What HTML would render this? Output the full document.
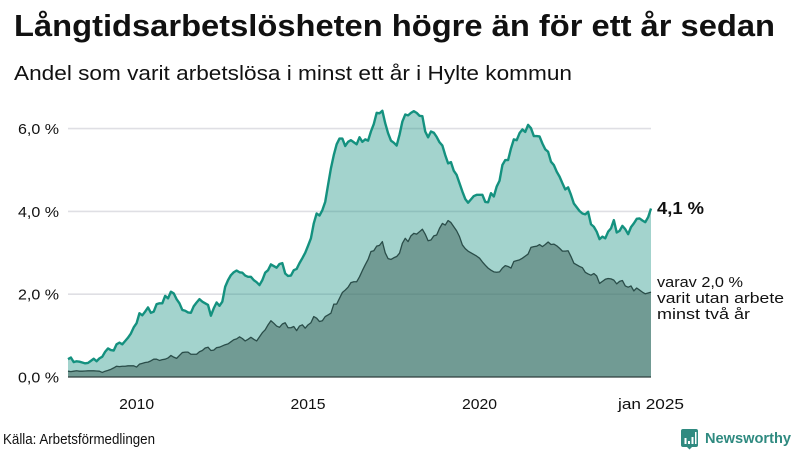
<!DOCTYPE html>
<html lang="sv">
<head>
<meta charset="utf-8">
<title>Långtidsarbetslösheten högre än för ett år sedan</title>
<style>
html,body{margin:0;padding:0;background:#fff;width:800px;height:450px;overflow:hidden}
svg{display:block}
text{font-family:"Liberation Sans",sans-serif;fill:#111}
</style>
</head>
<body>
<svg id="chart" width="800" height="450" viewBox="0 0 800 450" xmlns="http://www.w3.org/2000/svg">
<text x="14" y="36" font-size="31" font-weight="700" textLength="761" lengthAdjust="spacingAndGlyphs">Långtidsarbetslösheten högre än för ett år sedan</text>
<text x="14" y="80" font-size="20.5" textLength="558" lengthAdjust="spacingAndGlyphs">Andel som varit arbetslösa i minst ett år i Hylte kommun</text>
<g id="grid"></g>
<g id="marks"></g>
<g id="ylabels"></g>
<g id="xlabels"></g>
<text x="657" y="214" font-size="17.5" font-weight="700" textLength="47" lengthAdjust="spacingAndGlyphs">4,1 %</text>
<text x="657" y="287" font-size="15" textLength="86" lengthAdjust="spacingAndGlyphs">varav 2,0 %</text>
<text x="657" y="303" font-size="15" textLength="127" lengthAdjust="spacingAndGlyphs">varit utan arbete</text>
<text x="657" y="319" font-size="15" textLength="93" lengthAdjust="spacingAndGlyphs">minst två år</text>
<text x="3" y="444" font-size="14.5" textLength="152" lengthAdjust="spacingAndGlyphs">Källa: Arbetsförmedlingen</text>
<g>
<path d="M683 429h13a2 2 0 0 1 2 2v14a2 2 0 0 1-2 2h-4l-2.500 2.500-2.500-2.500h-4a2 2 0 0 1-2-2v-14a2 2 0 0 1 2-2z" fill="#2f8a80"/>
<path d="M684.500 438h2v6h-2zM688 441h2v3h-2zM691.500 437h2v7h-2zM695 432h1.500v12H695z" fill="#fff"/>
<text x="705" y="443" font-size="15" font-weight="700" textLength="86" lengthAdjust="spacingAndGlyphs" style="fill:#2f8a80">Newsworthy</text>
</g>
</svg>
<script>
// Monthly values, January 2008 to January 2025 (percent)
const startYear = 2008;
const totalShare = [
0.43,0.47,0.36,0.38,0.37,0.35,0.33,0.34,0.39,0.44,0.38,0.45,
0.49,0.61,0.69,0.65,0.64,0.79,0.83,0.79,0.87,0.95,1.05,1.20,
1.30,1.54,1.49,1.58,1.68,1.55,1.58,1.76,1.78,1.78,1.96,1.90,
2.06,2.02,1.88,1.78,1.62,1.60,1.56,1.55,1.71,1.80,1.88,1.82,
1.78,1.74,1.48,1.66,1.80,1.72,1.82,2.18,2.34,2.46,2.53,2.57,
2.53,2.52,2.45,2.42,2.42,2.34,2.29,2.22,2.34,2.52,2.58,2.72,
2.68,2.64,2.73,2.75,2.50,2.44,2.45,2.58,2.61,2.75,2.87,3.00,
3.17,3.35,3.71,3.95,3.90,4.03,4.23,4.64,5.04,5.36,5.62,5.76,
5.76,5.58,5.68,5.72,5.67,5.62,5.79,5.68,5.74,5.71,5.93,6.11,
6.38,6.37,6.43,6.13,5.89,5.71,5.66,5.59,5.85,6.17,6.34,6.32,
6.38,6.42,6.38,6.31,6.30,5.93,5.79,5.93,5.90,5.80,5.67,5.59,
5.36,5.16,5.19,4.98,4.88,4.68,4.48,4.30,4.21,4.29,4.37,4.40,
4.40,4.40,4.23,4.22,4.44,4.36,4.60,4.74,5.12,5.24,5.24,5.52,
5.74,5.72,5.89,5.98,5.92,6.09,6.01,5.82,5.82,5.81,5.64,5.50,
5.44,5.20,5.12,4.96,4.84,4.68,4.53,4.58,4.40,4.19,4.10,4.01,
3.95,3.93,3.99,3.69,3.63,3.51,3.33,3.39,3.35,3.51,3.59,3.79,
3.49,3.53,3.65,3.57,3.45,3.62,3.71,3.82,3.83,3.78,3.74,3.86,
4.07];
const twoYearShare = [
0.14,0.13,0.14,0.15,0.14,0.14,0.145,0.15,0.15,0.15,0.145,0.14,
0.11,0.14,0.16,0.185,0.22,0.26,0.25,0.26,0.26,0.27,0.27,0.27,
0.24,0.31,0.33,0.35,0.36,0.39,0.43,0.43,0.40,0.42,0.43,0.46,
0.52,0.48,0.45,0.52,0.59,0.60,0.60,0.55,0.55,0.55,0.61,0.64,
0.70,0.72,0.64,0.65,0.71,0.72,0.75,0.78,0.80,0.85,0.90,0.92,
0.97,0.93,0.87,0.91,0.96,0.91,0.87,0.97,1.07,1.14,1.26,1.36,
1.30,1.23,1.20,1.28,1.31,1.19,1.19,1.22,1.12,1.23,1.26,1.18,
1.26,1.31,1.46,1.42,1.34,1.36,1.46,1.50,1.54,1.76,1.76,1.90,
2.04,2.10,2.17,2.28,2.30,2.30,2.42,2.57,2.71,2.84,3.03,3.05,
3.16,3.18,3.27,3.00,2.86,2.84,2.88,2.91,2.99,3.23,3.35,3.27,
3.41,3.47,3.45,3.51,3.57,3.45,3.29,3.31,3.41,3.43,3.59,3.71,
3.67,3.78,3.73,3.63,3.53,3.39,3.19,3.10,3.04,3.00,2.96,2.92,
2.87,2.78,2.70,2.63,2.58,2.54,2.53,2.54,2.63,2.69,2.67,2.63,
2.79,2.81,2.83,2.87,2.92,2.97,3.13,3.15,3.16,3.20,3.15,3.20,
3.26,3.20,3.21,3.17,3.11,3.04,3.04,3.05,2.91,2.75,2.71,2.67,
2.64,2.53,2.49,2.46,2.50,2.44,2.26,2.31,2.36,2.38,2.37,2.34,
2.25,2.31,2.33,2.20,2.17,2.20,2.08,2.15,2.10,2.05,2.01,2.03,
2.05];
const yTickValues = [0, 2, 4, 6];
const yTickLabels = ["0,0 %", "2,0 %", "4,0 %", "6,0 %"];
const xTickMonths = [24, 84, 144, 204];
const xTickLabels = ["2010", "2015", "2020", "jan 2025"];

const NS = "http://www.w3.org/2000/svg";
const monthCount = 204;
function xScale(i) { return 68 + i * (651 - 68) / monthCount; }
function yScale(v) { return 377 - v * (377 - 128.6) / 6; }
function make(tag, attrs, parent) {
  const el = document.createElementNS(NS, tag);
  for (const k in attrs) el.setAttribute(k, attrs[k]);
  parent.appendChild(el);
  return el;
}
function linePath(values) {
  return values.map((v, i) => (i ? "L" : "M") + xScale(i).toFixed(2) + " " + yScale(v).toFixed(2)).join("");
}
function areaPath(values) {
  const last = values.length - 1;
  return linePath(values) + "L" + xScale(last).toFixed(2) + " " + yScale(0) + "L" + xScale(0) + " " + yScale(0) + "Z";
}
const grid = document.getElementById("grid");
const marks = document.getElementById("marks");
const ylabels = document.getElementById("ylabels");
const xlabels = document.getElementById("xlabels");

yTickValues.forEach((v, i) => {
  if (v !== 0) {
    const g = make("line", {x1: xScale(0), x2: xScale(monthCount), y1: yScale(v), y2: yScale(v), stroke: "#dfdfe4", "stroke-width": 1.6}, grid);
    
    
  }
  const t = make("text", {x: 59, y: yScale(v) + 5.5, "text-anchor": "end", "font-size": 15, textLength: 41, lengthAdjust: "spacingAndGlyphs"}, ylabels);
  t.textContent = yTickLabels[i];
  
  
});

const totalArea = make("path", {d: areaPath(totalShare), fill: "#1a9281", "fill-opacity": 0.4}, marks);


const twoYearArea = make("path", {d: areaPath(twoYearShare), fill: "#40645c", "fill-opacity": 0.5}, marks);


const totalLine = make("path", {d: linePath(totalShare), fill: "none", stroke: "#14917f", "stroke-width": 2.4, "stroke-linejoin": "round"}, marks);


const twoYearLine = make("path", {d: linePath(twoYearShare), fill: "none", stroke: "#2a4d49", "stroke-width": 1.3, "stroke-linejoin": "round"}, marks);


const baseline = make("line", {x1: xScale(0), x2: xScale(monthCount), y1: yScale(0), y2: yScale(0), stroke: "#2e3e3c", "stroke-width": 1.3}, marks);



xTickMonths.forEach((m, i) => {
  const label = xTickLabels[i];
  const t = make("text", {x: xScale(m), y: 409, "text-anchor": "middle", "font-size": 15, textLength: label.length > 4 ? 66 : 35, lengthAdjust: "spacingAndGlyphs"}, xlabels);
  t.textContent = label;
  
  
});
</script>
</body>
</html>
